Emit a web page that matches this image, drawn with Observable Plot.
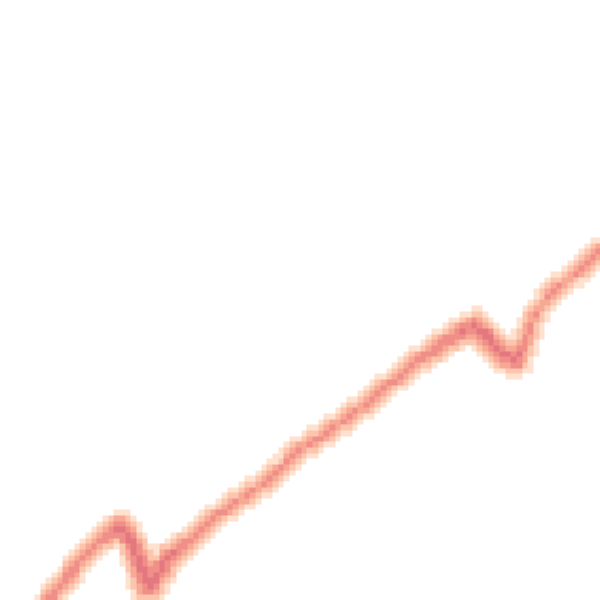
<!DOCTYPE html>
<html>
<head>
<meta charset="utf-8">
<script src="https://cdn.jsdelivr.net/npm/d3@7"></script>
<script src="https://cdn.jsdelivr.net/npm/@observablehq/plot@0.6"></script>
<style>
  html, body { margin: 0; padding: 0; background: #fff; }
  #chart { width: 600px; height: 600px; }
</style>
</head>
<body>
<div id="chart"></div>
<script>
// Centre line of the dense band (x: time units 0–100, y: value 0–100)
const lineX = [7.2, 8.3, 10.3, 13.0, 16.7, 20.0, 22.0, 23.3, 24.7, 26.3, 28.3, 32.2, 36.2, 42.2, 47.2, 50.0, 53.3, 58.8, 62.2, 66.2, 68.8, 71.7, 74.5, 76.7, 79.2, 81.2, 83.3, 85.8, 87.3, 88.8, 90.5, 92.2, 94.5, 97.8, 100.0, 101.7];
const lineY = [-1.0, 0.3, 2.8, 6.2, 10.0, 12.2, 9.5, 6.3, 2.5, 4.7, 7.5, 10.5, 14.2, 18.3, 22.2, 25.3, 27.2, 31.2, 33.8, 37.2, 39.5, 41.3, 43.3, 44.7, 45.8, 43.8, 41.3, 40.0, 42.5, 47.2, 49.5, 51.7, 53.3, 56.2, 58.3, 59.7];
const lineWeight = [0.78, 0.8, 0.8, 0.78, 0.82, 1.0, 0.98, 1.0, 1.0, 1.0, 0.9, 0.76, 0.72, 0.72, 0.72, 0.72, 0.72, 0.74, 0.74, 0.74, 0.76, 0.8, 0.84, 0.88, 0.96, 1.0, 1.0, 0.92, 0.76, 0.7, 0.7, 0.7, 0.7, 0.7, 0.7, 0.7];
// Half-width of the band at each point
const lineSpread = [2.7, 2.7, 2.7, 2.7, 2.8, 3.2, 3.2, 3.5, 3.7, 3.5, 3.1, 2.7, 2.7, 2.7, 2.7, 2.7, 2.7, 2.7, 2.7, 2.7, 2.8, 2.9, 3.0, 3.1, 3.3, 3.3, 3.5, 3.5, 3.0, 2.6, 2.6, 2.6, 2.6, 2.6, 2.6, 2.6];

// Size of one density cell, in data units
const cellSize = 0.945;

// Colour levels
const levelDomain = [0.1, 0.3, 0.48, 0.64, 0.84];
const levelColors = ["#ffffff", "#fee2cf", "#fcc6ae", "#f8a995", "#f08e88", "#e37880"];

function density(x0, y0) {
  const x = (Math.floor(x0 / cellSize) + 0.5) * cellSize;
  const y = (Math.floor(y0 / cellSize) + 0.5) * cellSize;
  let best = 0;
  for (let i = 0; i < lineX.length - 1; i++) {
    const ax = lineX[i], ay = lineY[i], bx = lineX[i + 1], by = lineY[i + 1];
    const dx = bx - ax, dy = by - ay, L = dx * dx + dy * dy;
    let t = L ? ((x - ax) * dx + (y - ay) * dy) / L : 0;
    t = Math.max(0, Math.min(1, t));
    const d = Math.hypot(x - (ax + t * dx), y - (ay + t * dy));
    const s = lineSpread[i] + (lineSpread[i + 1] - lineSpread[i]) * t;
    const w = lineWeight[i] + (lineWeight[i + 1] - lineWeight[i]) * t;
    const v = w * Math.max(0, 1 - d / s);
    if (v > best) best = v;
  }
  return best;
}

const chart = Plot.plot({
  width: 600,
  height: 600,
  margin: 0,
  x: {domain: [0, 100], axis: null},
  y: {domain: [0, 100], axis: null},
  color: {type: "threshold", domain: levelDomain, range: levelColors},
  marks: [
    Plot.raster({
      fill: density,
      x1: 0, x2: 100, y1: 0, y2: 100,
      pixelSize: 1
    })
  ]
});
document.getElementById("chart").appendChild(chart);
</script>
</body>
</html>
